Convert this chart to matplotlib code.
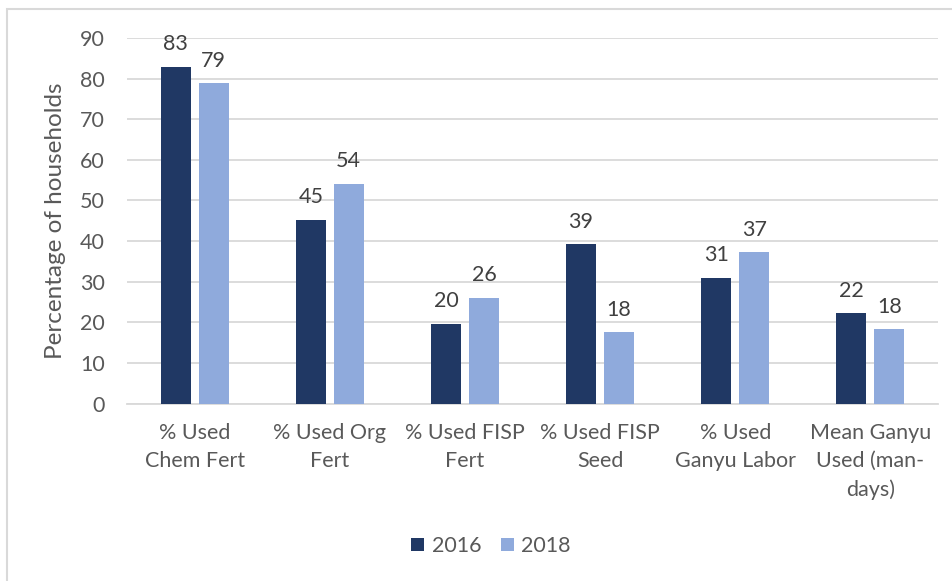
import matplotlib
matplotlib.use("Agg")
import matplotlib.pyplot as plt
import numpy as np
from matplotlib.patches import Rectangle

categories = ["% Used\nChem Fert", "% Used Org\nFert", "% Used FISP\nFert",
              "% Used FISP\nSeed", "% Used\nGanyu Labor", "Mean Ganyu\nUsed (man-\ndays)"]
vals_2016 = [82.9, 45.2, 19.6, 39.2, 31.0, 22.2]
vals_2018 = [78.9, 54.1, 26.0, 17.5, 37.3, 18.3]
labels_2016 = ["83", "45", "20", "39", "31", "22"]
labels_2018 = ["79", "54", "26", "18", "37", "18"]
yticks = [0, 10, 20, 30, 40, 50, 60, 70, 80, 90]

c16 = "#203864"
c18 = "#8faadc"
tc = "#595959"
plt.rcParams['font.family'] = ['Lato', 'DejaVu Sans']
fs = 15.5

W, H = 952, 581
fig = plt.figure(figsize=(W/100, H/100), dpi=100)
ax = fig.add_axes([127/W, 1-403.5/H, (938-127)/W, (403.5-38)/H])

x = np.arange(len(categories))
bw = 0.222
off = 0.1405
b1 = ax.bar(x - off, vals_2016, bw, color=c16, label="2016", zorder=3)
b2 = ax.bar(x + off, vals_2018, bw, color=c18, label="2018", zorder=3)
for rect, lab in zip(b1, labels_2016):
    ax.annotate(lab, (rect.get_x() + rect.get_width()/2, rect.get_height()),
                xytext=(0, 9), textcoords="offset points", ha="center", va="bottom",
                fontsize=fs, color="#404040")
for rect, lab in zip(b2, labels_2018):
    ax.annotate(lab, (rect.get_x() + rect.get_width()/2, rect.get_height()),
                xytext=(0, 9), textcoords="offset points", ha="center", va="bottom",
                fontsize=fs, color="#404040")

ax.set_xlim(-0.5, len(categories) - 0.5)
ax.set_ylim(0, 90)
ax.set_yticks(yticks)
ax.set_xticks(x)
ax.set_xticklabels(categories, fontsize=fs, color=tc, linespacing=1.5)
ax.tick_params(axis='y', labelsize=fs, colors=tc, length=0, pad=16)
ax.tick_params(axis='x', length=0, pad=14)
ax.yaxis.grid(True, color="#d9d9d9", linewidth=1.3, zorder=0)
ax.set_axisbelow(True)
for s in ["top", "right", "left"]:
    ax.spines[s].set_visible(False)
ax.spines["bottom"].set_color("#d9d9d9")
ax.spines["bottom"].set_linewidth(1.3)
ax.set_ylabel("Percentage of households", fontsize=17.5, color=tc, labelpad=10)

leg = fig.legend(handles=[b1, b2], labels=["2016", "2018"], loc="center",
                 bbox_to_anchor=(491/W, 1-546/H), ncol=2, frameon=False,
                 fontsize=fs, handlelength=0.6, handleheight=0.6,
                 handletextpad=0.35, columnspacing=0.9)
for t in leg.get_texts():
    t.set_color(tc)

fig.patches.append(Rectangle((7/W, -0.1), 1.2, 1 - 9/H + 0.1, transform=fig.transFigure,
                             fill=False, edgecolor="#d9d9d9", linewidth=1.5))

fig.savefig("out.png", dpi=100, facecolor="white")
